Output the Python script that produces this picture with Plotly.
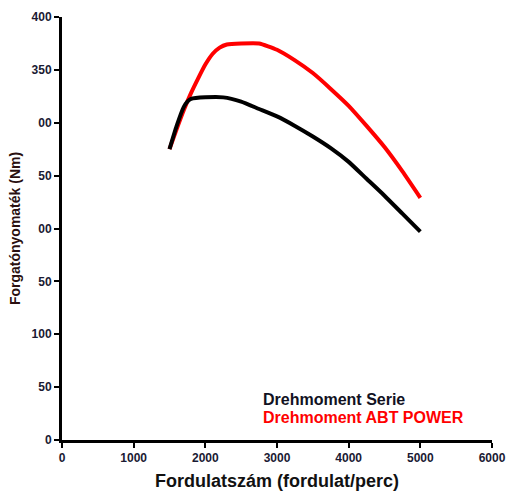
import plotly.graph_objects as go

rpm_serie = [1500, 1600, 1700, 1750, 1800, 2000, 2250, 2500, 2750, 3000, 3250, 3500, 3750, 4000, 4250, 4500, 4750, 5000]
serie = [275, 297, 315, 320, 322.5, 324, 324, 320, 313, 306, 297, 287, 276, 263, 247, 231, 214, 197]

rpm_abt = [1500, 1600, 1700, 1800, 1900, 2000, 2100, 2200, 2300, 2500, 2750, 3000, 3250, 3500, 3750, 4000, 4250, 4500, 4750, 5000]
abt = [275, 294, 312, 328, 342, 355, 365, 371, 374, 375, 375, 369, 359, 347, 332, 316, 297, 277, 254, 229]

x_ticks = [0, 1000, 2000, 3000, 4000, 5000, 6000]
y_ticks = [0, 50, 100, 150, 200, 250, 300, 350, 400]
y_ticktext = ["0", "50", "100", "50", "00", "50", "00", "350", "400"]

font_family = "Liberation Sans, Arial, sans-serif"

fig = go.Figure()
fig.add_trace(go.Scatter(x=rpm_abt, y=abt, mode="lines",
                         line=dict(color="#ff0000", width=4, shape="spline", smoothing=0.5),
                         name="Drehmoment ABT POWER"))
fig.add_trace(go.Scatter(x=rpm_serie, y=serie, mode="lines",
                         line=dict(color="#000000", width=4, shape="spline", smoothing=0.5),
                         name="Drehmoment Serie"))

fig.add_annotation(x=0.462, y=0.095, xref="paper", yref="paper", xanchor="left", yanchor="middle",
                   text="<b>Drehmoment Serie</b>", showarrow=False,
                   font=dict(size=16, color="#111122", family=font_family))
fig.add_annotation(x=0.462, y=0.053, xref="paper", yref="paper", xanchor="left", yanchor="middle",
                   text="<b>Drehmoment ABT POWER</b>", showarrow=False,
                   font=dict(size=16, color="#ff0000", family=font_family))

fig.update_layout(
    width=507, height=495,
    margin=dict(l=62, r=15, t=17, b=55),
    paper_bgcolor="white", plot_bgcolor="white",
    showlegend=False,
    hovermode=False,
    font=dict(family=font_family, color="#111122"),
)
fig.update_xaxes(
    range=[0, 6000], tickvals=x_ticks, ticktext=[str(v) for v in x_ticks],
    automargin=False,
    showgrid=False, zeroline=False, showline=True, linecolor="black", linewidth=3,
    ticks="outside", ticklen=5, tickwidth=2, tickcolor="black",
    tickfont=dict(size=12, family=font_family, color="#1a1a33", weight="bold"),
    title=dict(text="<b>Fordulatszám (fordulat/perc)</b>",
               font=dict(size=18, family=font_family, color="#111111"), standoff=10),
)
fig.update_yaxes(
    range=[0, 400], tickvals=y_ticks, ticktext=y_ticktext,
    automargin=False,
    showgrid=False, zeroline=False, showline=True, linecolor="black", linewidth=3,
    ticks="outside", ticklen=5, tickwidth=2, tickcolor="black",
    tickfont=dict(size=12, family=font_family, color="#1a1a33", weight="bold"),
    title=dict(text="<b>Forgatónyomaték (Nm)</b>",
               font=dict(size=14, family=font_family, color="#2a1010"), standoff=8),
)

fig.write_html("out.html", config={"displayModeBar": False},
               post_script="document.body.style.margin='0';document.body.style.overflow='hidden';")
